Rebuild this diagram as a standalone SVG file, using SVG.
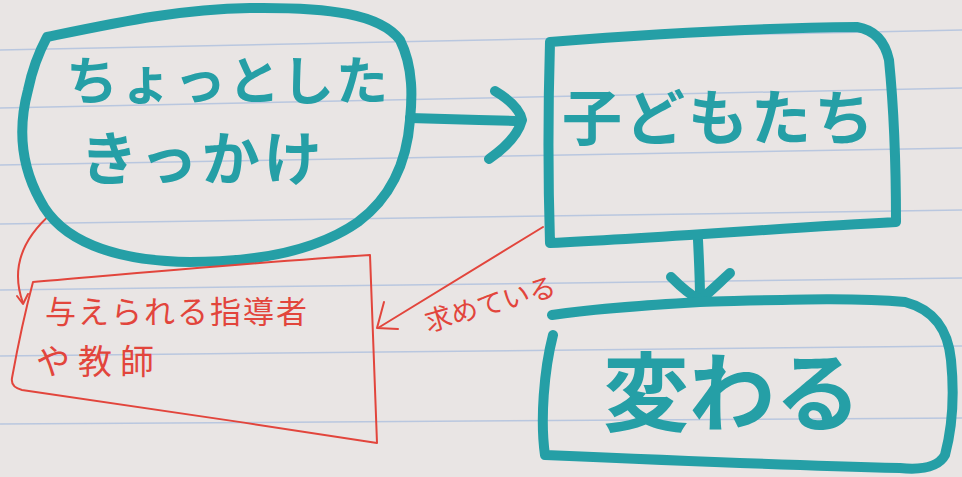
<svg xmlns="http://www.w3.org/2000/svg" width="962" height="477" viewBox="0 0 962 477">
  <style>
    .teal { fill: none; stroke: #259fa6; stroke-width: 10; stroke-linecap: round; stroke-linejoin: round; }
    .red { fill: none; stroke: #e2453c; stroke-width: 2; stroke-linecap: round; stroke-linejoin: round; }
    .rule { stroke: #b9c7df; stroke-width: 1.5; }
    .tt { fill: #259fa6; font-family: "Noto Sans CJK JP", sans-serif; font-weight: 700; }
    .rt { fill: #e2453c; font-family: "Noto Sans CJK JP", sans-serif; font-weight: 400; }
  </style>
  <rect width="962" height="477" fill="#e9e5e4"/>
  <g id="rules">
    <line class="rule" x1="0" y1="50" x2="962" y2="30"/>
    <line class="rule" x1="0" y1="108" x2="962" y2="88"/>
    <line class="rule" x1="0" y1="165" x2="962" y2="148"/>
    <line class="rule" x1="0" y1="224" x2="962" y2="210"/>
    <line class="rule" x1="0" y1="290" x2="962" y2="278"/>
    <line class="rule" x1="0" y1="356" x2="962" y2="346"/>
    <line class="rule" x1="0" y1="424" x2="962" y2="418"/>
  </g>
  <g id="connectors">
    <g id="arrow-right">
      <path class="teal" d="M410,118 C440,119 480,120 515,121"/>
      <path class="teal" d="M495,91 C510,100 520,110 522,120 C518,135 505,148 489,159"/>
    </g>
    <g id="arrow-down">
      <path class="teal" d="M698,240 C699,260 700,280 700,298"/>
      <path class="teal" d="M671,277 C682,288 692,296 700,300 C710,292 720,282 730,273"/>
    </g>
    <g id="arrow-red-curve">
      <path class="red" d="M52,213 C30,232 8,262 23,303"/>
      <path class="red" d="M17,296 L23,304 L28,294"/>
    </g>
    <g id="arrow-red-seek">
      <path class="red" d="M543,227 L378,328"/>
      <path class="red" d="M384,302 L377,328 L398,329"/>
      <text class="rt" font-size="27" transform="translate(428,332) rotate(-16)">求めている</text>
    </g>
  </g>
  <g id="node-kikkake">
    <path class="teal" d="M47,37 C120,22 180,9 250,8 C330,7 380,14 400,40 C414,68 412,100 410,120 C407,160 393,196 358,222 C318,250 258,262 190,262 C112,261 60,240 40,200 C18,160 20,120 28,90 C33,66 40,50 47,37 Z"/>
    <text class="tt" font-size="52" x="66" y="100" letter-spacing="2">ちょっとした</text>
    <text class="tt" font-size="58" x="80" y="180" letter-spacing="4">きっかけ</text>
  </g>
  <g id="node-kodomo">
    <path class="teal" d="M550,42 C650,34 760,28 857,27 C875,30 885,42 889,60 C894,110 896,170 896,222 C780,228 660,238 550,243 C548,180 548,110 550,42"/>
    <text class="tt" font-size="60" x="562" y="140" letter-spacing="3">子どもたち</text>
  </g>
  <g id="node-kawaru">
    <path class="teal" d="M552,315 C600,308 650,305 700,302 C780,300 850,297 905,302 C935,310 948,330 951,360 C954,390 953,425 945,455 C938,468 920,470 900,468 C780,465 660,460 545,455 C540,420 544,370 553,335"/>
    <text class="tt" font-size="86" x="603" y="425" letter-spacing="0">変わる</text>
  </g>
  <g id="node-shidousha">
    <path class="red" d="M33,282 C150,272 260,262 370,255 C373,320 375,385 377,443 C260,425 130,405 22,390 C14,388 11,384 12,378 C18,345 25,312 33,282 Z"/>
    <text class="rt" font-size="31" x="45" y="323" letter-spacing="2">与えられる指導者</text>
    <text class="rt" font-size="34" x="36" y="374" letter-spacing="8">や教師</text>
  </g>
</svg>
